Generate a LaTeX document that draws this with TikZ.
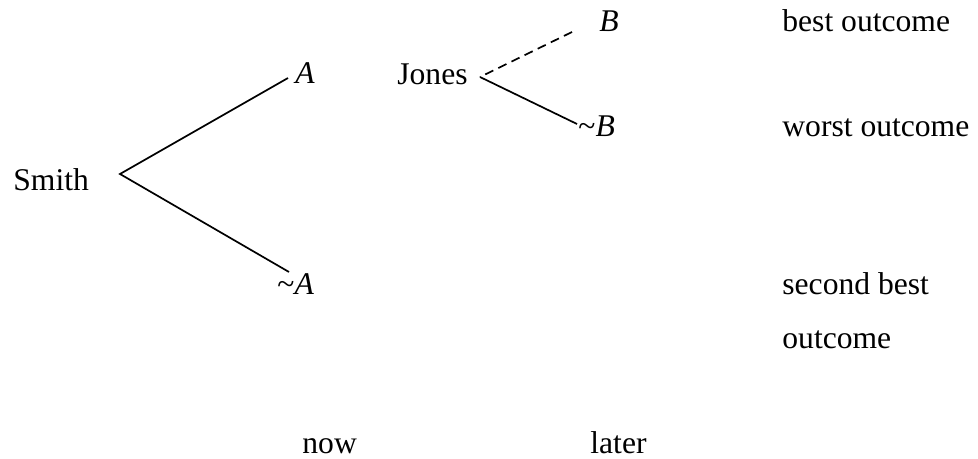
\documentclass[tikz,border=0pt]{standalone}
\usepackage{fontspec}
\setmainfont{Liberation Serif}
\begin{document}
\begin{tikzpicture}[x=0.5pt,y=-0.5pt,
  lbl/.style={anchor=base west,inner sep=0pt,font=\fontsize{15.8}{19}\selectfont},
  branch/.style={line width=0.85pt},
  dbranch/.style={line width=0.85pt,dash pattern=on 4.5pt off 2.8pt}]
\useasboundingbox (0,0) rectangle (978,459);
% labels
\node[lbl] (smith) at (13,191) {Smith};
\node[lbl] (a) at (295,84) {\textit{A}};
\node[lbl] (na) at (277,295) {\textasciitilde\textit{A}};
\node[lbl] (jones) at (397,85) {Jones};
\node[lbl] (b) at (599,32) {\textit{B}};
\node[lbl] (nb) at (578,137) {\textasciitilde\textit{B}};
\node[lbl] (best) at (782,32) {best outcome};
\node[lbl] (worst) at (782,137) {worst outcome};
\node[lbl] (second) at (782,295) {second best};
\node[lbl] (second2) at (782,348) {outcome};
\node[lbl] (now) at (302,453) {now};
\node[lbl] (later) at (590,453) {later};
% branch points
\coordinate (sroot) at (120,174);
\coordinate (aend) at (288,78);
\coordinate (naend) at (289,272);
\coordinate (jroot) at (480,77);
\coordinate (bend) at (572,32);
\coordinate (nbend) at (577,124);
\draw[branch] (aend) -- (sroot) -- (naend);
\draw[dbranch] (bend) -- (jroot);
\draw[branch] (jroot) -- (nbend);
\end{tikzpicture}
\end{document}
